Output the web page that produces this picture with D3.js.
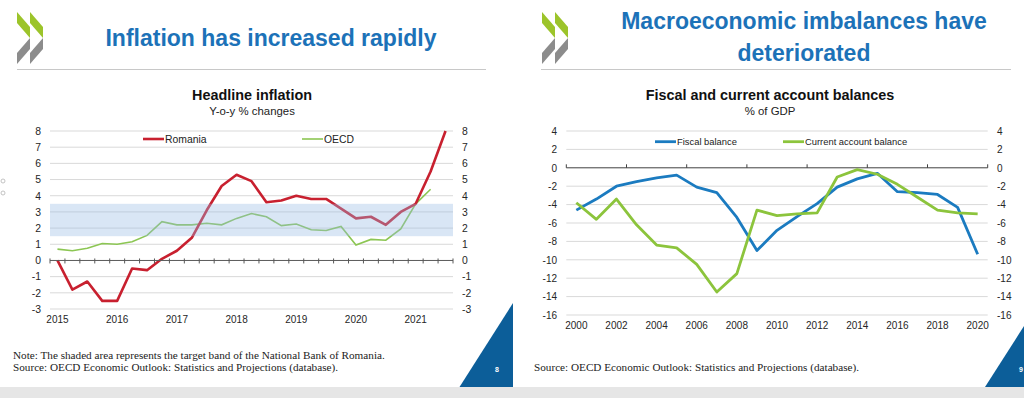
<!DOCTYPE html>
<html>
<head>
<meta charset="utf-8">
<script src="https://cdn.jsdelivr.net/npm/d3@7/dist/d3.min.js"></script>
<style>
    body { margin: 0; background: #fff; }
    svg { display: block; font-family: Arial, 'Liberation Sans', sans-serif; }
    .tick text { fill: #262626; }
</style>
</head>
<body>
<div id="chart-area"></div>
<script>
// ---- left slide: headline inflation, quarterly y-o-y % ----
var quarters = ['2015Q1','2015Q2','2015Q3','2015Q4','2016Q1','2016Q2','2016Q3','2016Q4',
                '2017Q1','2017Q2','2017Q3','2017Q4','2018Q1','2018Q2','2018Q3','2018Q4',
                '2019Q1','2019Q2','2019Q3','2019Q4','2020Q1','2020Q2','2020Q3','2020Q4',
                '2021Q1','2021Q2','2021Q3'];
var romania = [0.0, -1.8, -1.3, -2.5, -2.5, -0.5, -0.6, 0.1,
               0.6, 1.4, 3.1, 4.6, 5.3, 4.9, 3.6, 3.7,
               4.0, 3.8, 3.8, 3.2, 2.6, 2.7, 2.2, 3.0,
               3.5, 5.5, 8.0];
var oecd = [0.7, 0.6, 0.75, 1.05, 1.0, 1.15, 1.55, 2.4,
            2.2, 2.2, 2.3, 2.2, 2.6, 2.9, 2.7, 2.15,
            2.25, 1.9, 1.85, 2.1, 0.95, 1.3, 1.25, 1.95,
            3.5, 4.4, null];
var targetBand = [1.5, 3.5];
var inflationTicks = [-3, -2, -1, 0, 1, 2, 3, 4, 5, 6, 7, 8];
var inflationYears = ['2015', '2016', '2017', '2018', '2019', '2020', '2021'];

// ---- right slide: fiscal and current account balances, % of GDP ----
var years = ['2000','2001','2002','2003','2004','2005','2006','2007','2008','2009','2010',
             '2011','2012','2013','2014','2015','2016','2017','2018','2019','2020'];
var fiscal = [-4.6, -3.4, -2.0, -1.5, -1.1, -0.8, -2.1, -2.7, -5.4, -9.0, -6.8,
              -5.3, -3.9, -2.1, -1.2, -0.6, -2.6, -2.7, -2.9, -4.3, -9.4];
var currentAccount = [-3.8, -5.6, -3.4, -6.2, -8.4, -8.7, -10.5, -13.5, -11.5, -4.6, -5.2,
                      -5.0, -4.9, -1.0, -0.2, -0.7, -1.8, -3.2, -4.6, -4.9, -5.0];
var balanceTicks = [-16, -14, -12, -10, -8, -6, -4, -2, 0, 2, 4];
var balanceYears = ['2000','2002','2004','2006','2008','2010','2012','2014','2016','2018','2020'];

var blueTitle = '#1c72b8';
var gridColor = '#d9d9d9';
var plain = function(d) { return String(d); }; // keep hyphen minus like the original

var svg = d3.select('#chart-area')
    .append('svg')
        .attr('width', 1024)
        .attr('height', 398);

svg.append('rect').attr('width', 1024).attr('height', 398).attr('fill', '#fff');
// grey strip at the bottom of the slides
svg.append('rect').attr('x', 0).attr('y', 387).attr('width', 1024).attr('height', 11).attr('fill', '#e6e6e6');

// oecd chevrons
function drawLogo(x0) {
    var w = 13;
    [x0, x0 + 13].forEach(function(a) {
        svg.append('polygon')
            .attr('points', [[a, 12], [a + w, 27], [a + w, 38], [a, 23]].join(' '))
            .attr('fill', '#9cc42a');
        svg.append('polygon')
            .attr('points', [[a + w, 38], [a + w, 49], [a, 64], [a, 53]].join(' '))
            .attr('fill', '#8c8c8c');
    });
}
drawLogo(17);
drawLogo(542);

// slide titles + rule
svg.append('text').attr('x', 271).attr('y', 46).attr('text-anchor', 'middle')
    .style('font-size', '23px').style('font-weight', 'bold').attr('fill', blueTitle)
    .text('Inflation has increased rapidly');
svg.append('text').attr('x', 804).attr('y', 29).attr('text-anchor', 'middle')
    .style('font-size', '23px').style('font-weight', 'bold').attr('fill', blueTitle)
    .text('Macroeconomic imbalances have');
svg.append('text').attr('x', 804).attr('y', 60.5).attr('text-anchor', 'middle')
    .style('font-size', '23px').style('font-weight', 'bold').attr('fill', blueTitle)
    .text('deteriorated');
svg.append('line').attr('x1', 17).attr('x2', 486).attr('y1', 69.5).attr('y2', 69.5).attr('stroke', '#c8c8c8');
svg.append('line').attr('x1', 541).attr('x2', 1011).attr('y1', 69.5).attr('y2', 69.5).attr('stroke', '#c8c8c8');

// faint bullet marks at left edge
[181, 193].forEach(function(cy) {
    svg.append('circle').attr('cx', 3).attr('cy', cy).attr('r', 2)
        .attr('fill', 'none').attr('stroke', '#b5b5b5').attr('stroke-width', 0.8);
});

// ================= left chart =================
var g1 = svg.append('g');
var x1 = d3.scaleBand().domain(quarters).range([50, 453]);
var y1 = d3.scaleLinear().domain([-3, 8]).range([309, 131]);
var cx1 = function(d, i) { return x1(quarters[i]) + x1.bandwidth() / 2; };

g1.append('text').attr('x', 252).attr('y', 100).attr('text-anchor', 'middle')
    .style('font-size', '14.4px').style('font-weight', 'bold').attr('fill', '#111')
    .text('Headline inflation');
g1.append('text').attr('x', 252).attr('y', 115).attr('text-anchor', 'middle')
    .style('font-size', '11.4px').attr('fill', '#222')
    .text('Y-o-y % changes');

g1.selectAll('.grid')
    .data(inflationTicks.filter(function(d) { return d !== 0; }))
    .enter().append('line')
        .attr('class', 'grid')
        .attr('x1', 50).attr('x2', 453)
        .attr('y1', function(d) { return y1(d); })
        .attr('y2', function(d) { return y1(d); })
        .attr('stroke', gridColor);

var line1 = d3.line()
    .defined(function(d) { return d !== null; })
    .x(cx1)
    .y(function(d) { return y1(d); });

g1.append('path').datum(oecd).attr('d', line1)
    .attr('fill', 'none').attr('stroke', '#8cc653').attr('stroke-width', 1.6);
g1.append('path').datum(romania).attr('d', line1)
    .attr('fill', 'none').attr('stroke', '#c8202f').attr('stroke-width', 2.6).attr('stroke-linejoin', 'round');

// target band of the NBR (drawn over the lines, as in the original)
g1.append('rect')
    .attr('x', 50).attr('width', 403)
    .attr('y', y1(targetBand[1]))
    .attr('height', y1(targetBand[0]) - y1(targetBand[1]))
    .attr('fill', 'rgb(150,186,226)').attr('opacity', 0.36);

// zero axis with quarterly ticks
g1.append('line').attr('x1', 50).attr('x2', 453).attr('y1', y1(0)).attr('y2', y1(0))
    .attr('stroke', '#595959').attr('stroke-width', 1);
g1.selectAll('.qtick')
    .data(quarters.map(function(q) { return x1(q); }).concat([x1.range()[1]]))
    .enter().append('line')
        .attr('x1', function(d) { return d; }).attr('x2', function(d) { return d; })
        .attr('y1', y1(0) - 2).attr('y2', y1(0) + 3)
        .attr('stroke', '#595959');

var yAxisL = d3.axisLeft(y1).tickValues(inflationTicks).tickFormat(plain).tickSize(0).tickPadding(0);
g1.append('g').attr('transform', 'translate(41,0)').call(yAxisL)
    .call(function(a) { a.select('.domain').remove(); })
    .selectAll('text').style('font-size', '10.4px');
var yAxisR = d3.axisRight(y1).tickValues(inflationTicks).tickFormat(plain).tickSize(0).tickPadding(0);
g1.append('g').attr('transform', 'translate(462,0)').call(yAxisR)
    .call(function(a) { a.select('.domain').remove(); })
    .selectAll('text').style('font-size', '10.4px');

var xAxis1 = d3.axisBottom(x1)
    .tickValues(inflationYears.map(function(y) { return y + 'Q1'; }))
    .tickFormat(function(q) { return q.slice(0, 4); })
    .tickSize(0).tickPadding(0);
g1.append('g').attr('transform', 'translate(0,316)').call(xAxis1)
    .call(function(a) { a.select('.domain').remove(); })
    .selectAll('text').style('font-size', '10px');

// legend
var legend1 = [
    { label: 'Romania', color: '#c8202f', x: 143, w: 2.6 },
    { label: 'OECD', color: '#8cc653', x: 302, w: 1.6 }
];
legend1.forEach(function(l) {
    g1.append('line').attr('x1', l.x).attr('x2', l.x + 21).attr('y1', 139).attr('y2', 139)
        .attr('stroke', l.color).attr('stroke-width', l.w);
    g1.append('text').attr('x', l.x + 22).attr('y', 142.8)
        .style('font-size', '10.4px').attr('fill', '#222').text(l.label);
});

// ================= right chart =================
var g2 = svg.append('g');
var x2 = d3.scaleBand().domain(years).range([566.3, 987.7]);
var y2 = d3.scaleLinear().domain([-16, 4]).range([315, 131]);
var cx2 = function(d, i) { return x2(years[i]) + x2.bandwidth() / 2; };

g2.append('text').attr('x', 770).attr('y', 100).attr('text-anchor', 'middle')
    .style('font-size', '14.4px').style('font-weight', 'bold').attr('fill', '#111')
    .text('Fiscal and current account balances');
g2.append('text').attr('x', 770).attr('y', 114.5).attr('text-anchor', 'middle')
    .style('font-size', '11.4px').attr('fill', '#222')
    .text('% of GDP');

g2.selectAll('.grid')
    .data(balanceTicks.filter(function(d) { return d !== 0; }))
    .enter().append('line')
        .attr('class', 'grid')
        .attr('x1', 566.3).attr('x2', 987.7)
        .attr('y1', function(d) { return y2(d); })
        .attr('y2', function(d) { return y2(d); })
        .attr('stroke', gridColor);

g2.append('line').attr('x1', 566.3).attr('x2', 987.7).attr('y1', y2(0)).attr('y2', y2(0))
    .attr('stroke', '#404040');
g2.selectAll('.ytick')
    .data(years.filter(function(y, i) { return i % 3 === 0; }).map(function(y) { return x2(y); }).concat([x2.range()[1]]))
    .enter().append('line')
        .attr('x1', function(d) { return d; }).attr('x2', function(d) { return d; })
        .attr('y1', y2(0) - 3.5).attr('y2', y2(0))
        .attr('stroke', '#404040');

var line2 = d3.line().x(cx2).y(function(d) { return y2(d); });
g2.append('path').datum(fiscal).attr('d', line2)
    .attr('fill', 'none').attr('stroke', '#1b7bc0').attr('stroke-width', 2.8).attr('stroke-linejoin', 'round');
g2.append('path').datum(currentAccount).attr('d', line2)
    .attr('fill', 'none').attr('stroke', '#8cc43c').attr('stroke-width', 2.8).attr('stroke-linejoin', 'round');

var yAxisL2 = d3.axisLeft(y2).tickValues(balanceTicks).tickFormat(plain).tickSize(0).tickPadding(0);
g2.append('g').attr('transform', 'translate(557,0)').call(yAxisL2)
    .call(function(a) { a.select('.domain').remove(); })
    .selectAll('text').style('font-size', '10px');
var yAxisR2 = d3.axisRight(y2).tickValues(balanceTicks).tickFormat(plain).tickSize(0).tickPadding(0);
g2.append('g').attr('transform', 'translate(997,0)').call(yAxisR2)
    .call(function(a) { a.select('.domain').remove(); })
    .selectAll('text').style('font-size', '10px');

var xAxis2 = d3.axisBottom(x2).tickValues(balanceYears).tickSize(0).tickPadding(0);
g2.append('g').attr('transform', 'translate(0,322)').call(xAxis2)
    .call(function(a) { a.select('.domain').remove(); })
    .selectAll('text').style('font-size', '10px');

var legend2 = [
    { label: 'Fiscal balance', color: '#1b7bc0', x: 655 },
    { label: 'Current account balance', color: '#8cc43c', x: 783 }
];
legend2.forEach(function(l) {
    g2.append('line').attr('x1', l.x).attr('x2', l.x + 21).attr('y1', 141.7).attr('y2', 141.7)
        .attr('stroke', l.color).attr('stroke-width', 2.8);
    g2.append('text').attr('x', l.x + 22).attr('y', 145)
        .style('font-size', '9.4px').attr('fill', '#222').text(l.label);
});

// footnotes
var noteStyle = function(t) {
    return t.style('font-family', "'Liberation Serif', 'DejaVu Serif', serif")
        .style('font-size', '11.2px').attr('fill', '#222');
};
noteStyle(svg.append('text').attr('x', 13).attr('y', 359))
    .text('Note: The shaded area represents the target band of the National Bank of Romania.');
noteStyle(svg.append('text').attr('x', 13).attr('y', 371))
    .text('Source: OECD Economic Outlook: Statistics and Projections (database).');
noteStyle(svg.append('text').attr('x', 534).attr('y', 371))
    .text('Source: OECD Economic Outlook: Statistics and Projections (database).');

// slide number corners
svg.append('polygon').attr('points', '459.5,387 513,303 513,387').attr('fill', '#0c5e99');
svg.append('polygon').attr('points', '985,387 1024,326 1024,387').attr('fill', '#0c5e99');
svg.append('text').attr('x', 497).attr('y', 372).attr('text-anchor', 'middle')
    .style('font-size', '7px').style('font-weight', 'bold').attr('fill', '#fff').text('8');
svg.append('text').attr('x', 1021).attr('y', 372).attr('text-anchor', 'middle')
    .style('font-size', '7px').style('font-weight', 'bold').attr('fill', '#fff').text('9');
</script>
</body>
</html>
